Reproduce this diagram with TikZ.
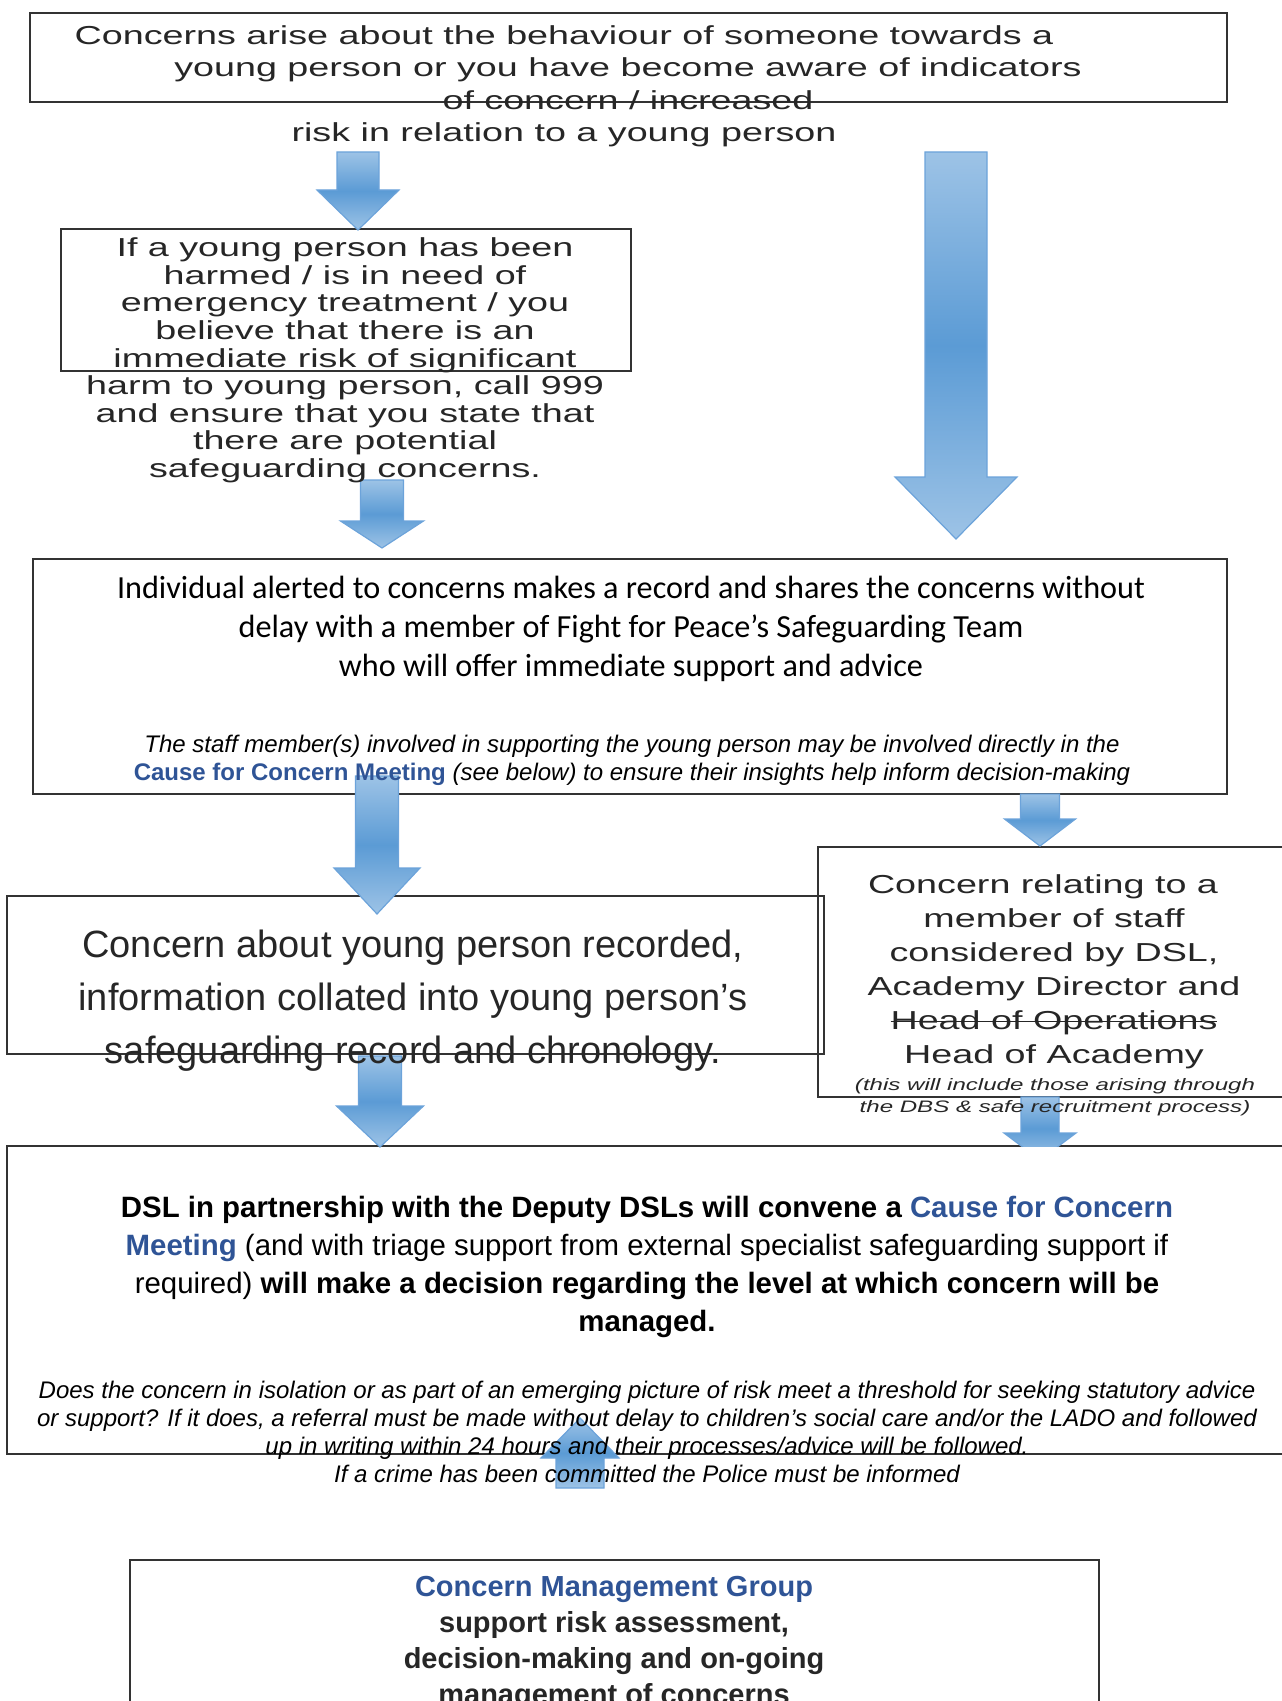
\documentclass[tikz,border=0pt]{standalone}
\usepackage{fontspec}
\setmainfont{Liberation Sans}
\newfontfamily\widefont[FakeStretch=1.45]{Liberation Sans}
\newfontfamily\califont{Carlito}
\usetikzlibrary{calc,fit}
\definecolor{arrowlight}{RGB}{157,195,230}
\definecolor{arrowdark}{RGB}{91,155,213}
\definecolor{arrowline}{RGB}{108,163,218}
\definecolor{ffpblue}{RGB}{47,84,150}
\def\StrikeOut#1{\setbox0=\hbox{#1}\rlap{\copy0}\rule[0.3em]{\wd0}{0.6pt}}
\def\BlockArrow#1#2#3#4#5{%
 \coordinate (base) at ($(#2)!#5!(#1)$);
 \shadedraw[arrow body] ($(#1)!#3!90:(#2)$) -- ($(base)!#3!90:(#2)$)
   -- ($(base)!#4!90:(#2)$) -- (#2) -- ($(base)!#4!-90:(#2)$)
   -- ($(base)!#3!-90:(#2)$) -- ($(#1)!#3!-90:(#2)$) -- cycle;
}
\tikzset{
  flow box/.style={draw=black!80, line width=1pt, inner sep=0pt},
  arrow body/.style={draw=arrowline, line width=0.6pt, top color=arrowlight,
        bottom color=arrowlight, middle color=arrowdark},
  flow text/.style={anchor=north, inner sep=0pt, align=center},
  wide text/.style={flow text, text=black!85,
        font=\widefont\fontsize{13}{16.3}\selectfont}
}
\begin{document}
\begin{tikzpicture}[x=0.5pt, y=-0.5pt]
\useasboundingbox (0,0) rectangle (1281,1701);
\node[flow box, fit={(30,13) (1227,102)}] (box1) {};
\node[flow box, fit={(61,229) (631,371)}] (box2) {};
\node[flow box, fit={(33,559) (1227,794)}] (box3) {};
\node[flow box, fit={(7,896) (824,1054)}] (box4) {};
\node[flow box, fit={(818,847) (1290,1097)}] (box5) {};
\node[flow box, fit={(7,1146) (1290,1454)}] (box6) {};
\node[flow box, line width=1.3pt, fit={(130,1560) (1099,1712)}] (box7) {};
% block arrows
\coordinate (a1s) at (358,152);  \coordinate (a1e) at (358,230);
\coordinate (a2s) at (382,480);  \coordinate (a2e) at (382,548);
\coordinate (bigs) at (956,152); \coordinate (bige) at (956,539);
\coordinate (a3s) at (377,776);  \coordinate (a3e) at (377,914);
\coordinate (a4s) at (1040,794); \coordinate (a4e) at (1040,846);
\coordinate (a5s) at (380,1056); \coordinate (a5e) at (380,1147);
\coordinate (a6s) at (1040,1097); \coordinate (a6e) at (1040,1160);
\coordinate (ups) at (580,1488); \coordinate (upe) at (580,1418);
\BlockArrow{a1s}{a1e}{10.5pt}{20.5pt}{20pt}
\BlockArrow{a2s}{a2e}{10.75pt}{20.75pt}{13.5pt}
\BlockArrow{bigs}{bige}{15.5pt}{30.5pt}{31pt}
\BlockArrow{a3s}{a3e}{10.75pt}{21.5pt}{23pt}
\BlockArrow{a4s}{a4e}{9.75pt}{17.75pt}{13.5pt}
\BlockArrow{a5s}{a5e}{10.75pt}{21.75pt}{20.5pt}
\begin{scope}
  \clip (0,0) rectangle (1281,1146);
  \BlockArrow{a6s}{a6e}{9.5pt}{18pt}{13.5pt}
\end{scope}
\BlockArrow{ups}{upe}{12pt}{19.5pt}{20pt}
% texts
\node[wide text] (t1a) at (564,25.4) {Concerns arise about the behaviour of someone towards a};
\node[wide text] (t1b) at (628,57.4) {young person or you have become aware of indicators\\ of concern / increased};
\node[wide text] (t1c) at (564,122.4) {risk in relation to a young person};
\node[wide text, font=\widefont\fontsize{13}{13.8}\selectfont] (t2) at (345,237.4)
  {If a young person has been\\ harmed / is in need of\\ emergency treatment / you\\
   believe that there is an\\ immediate risk of significant\\ harm to young person, call 999\\
   and ensure that you state that\\ there are potential\\ safeguarding concerns.};
\node[flow text, font=\califont\fontsize{16.1}{19.5}\selectfont] (t3) at (631,576)
  {Individual alerted to concerns makes a record and shares the concerns without\\
   delay with a member of Fight for Peace’s Safeguarding Team\\
   who will offer immediate support and advice};
\node[flow text, font=\fontsize{12}{14}\selectfont] (t3i) at (632,734.5)
  {\textit{The staff member(s) involved in supporting the young person may be involved directly in the}\\
   \textbf{\textcolor{ffpblue}{Cause for Concern Meeting}} \textit{(see below) to ensure their insights help inform decision-making}};
\node[flow text, text=black!85, font=\fontsize{19}{26.5}\selectfont] (t4) at (413,930)
  {Concern about young person recorded,\\ information collated into young person’s\\
   safeguarding record and chronology.};
\node[wide text, font=\widefont\fontsize{13}{17}\selectfont] (t5) at (1054,874.4)
  {Concern relating to a\hspace*{11pt}\\ member of staff\\ considered by DSL,\\
   Academy Director and\\ \StrikeOut{Head of Operations}\\ Head of Academy};
\node[wide text, font=\widefont\itshape\fontsize{8.3}{10.8}\selectfont] (t5i) at (1055,1078)
  {(this will include those arising through\\ the DBS \& safe recruitment process)};
\node[flow text, font=\fontsize{14.7}{19}\selectfont] (t6) at (647,1196)
  {\textbf{DSL in partnership with the Deputy DSLs will convene a \textcolor{ffpblue}{Cause for Concern}}\\
   \textbf{\textcolor{ffpblue}{Meeting}} (and with triage support from external specialist safeguarding support if\\
   required) \textbf{will make a decision regarding the level at which concern will be}\\
   \textbf{managed.}};
\node[flow text, font=\itshape\fontsize{12}{14}\selectfont] (t6i) at (647,1380.5)
  {Does the concern in isolation or as part of an emerging picture of risk meet a threshold for seeking statutory advice\\
   or support? If it does, a referral must be made without delay to children’s social care and/or the LADO and followed\\
   up in writing within 24 hours and their processes/advice will be followed.\\
   If a crime has been committed the Police must be informed};
\node[flow text, text=black!85, font=\bfseries\fontsize{14.5}{18}\selectfont] (t7) at (614,1576)
  {\textcolor{ffpblue}{Concern Management Group}\\ support risk assessment,\\
   decision-making and on-going\\ management of concerns};
\end{tikzpicture}
\end{document}
